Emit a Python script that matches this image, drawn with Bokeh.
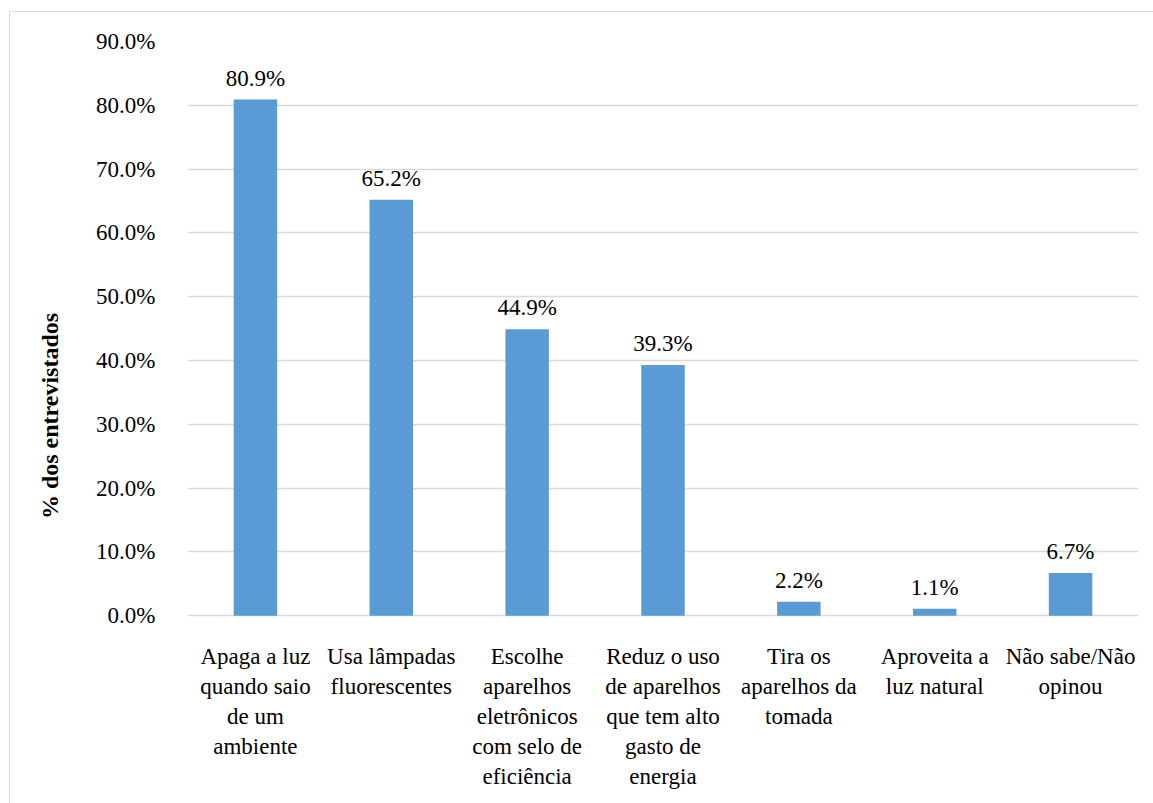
from bokeh.plotting import figure
from bokeh.layouts import column
from bokeh.models import FactorRange, Range1d, FixedTicker, ColumnDataSource
from bokeh.core.properties import value
from bokeh.embed import file_html
from bokeh.resources import INLINE

categories = [
    "Apaga a luz\nquando saio\nde um\nambiente",
    "Usa lâmpadas\nfluorescentes",
    "Escolhe\naparelhos\neletrônicos\ncom selo de\neficiência",
    "Reduz o uso\nde aparelhos\nque tem alto\ngasto de\nenergia",
    "Tira os\naparelhos da\ntomada",
    "Aproveita a\nluz natural",
    "Não sabe/Não\nopinou",
]
values = [80.9, 65.2, 44.9, 39.3, 2.2, 1.1, 6.7]
value_labels = [f"{v:.1f}%" for v in values]
y_ticks = [0, 10, 20, 30, 40, 50, 60, 70, 80, 90]
y_tick_labels = {t: f"{t:.1f}%" for t in y_ticks}

FONT = "Liberation Serif"
src = ColumnDataSource(dict(cat=categories, val=values, lab=value_labels,
                            zero=[0] * len(values)))

p = figure(
    x_range=FactorRange(*categories, range_padding=0),
    y_range=Range1d(-27.4, 90),
    width=1150, height=800,
    output_backend="svg", toolbar_location=None,
    min_border_left=177, min_border_right=22, min_border_top=29, min_border_bottom=22,
)
p.outline_line_color = None
p.background_fill_color = "white"

p.vbar(x="cat", top="val", bottom=0, width=0.32, source=src,
       fill_color="#5B9BD5", line_color=None)

p.text(x="cat", y="val", text="lab", source=src, text_align="center",
       text_baseline="bottom", y_offset=-9, text_font=value(FONT),
       text_font_size="23px", text_color="#000000")

p.text(x="cat", y="zero", text="cat", source=src, text_align="center",
       text_baseline="top", y_offset=28, text_font=value(FONT),
       text_font_size="23px", text_color="#000000", text_line_height=1.2)

p.xaxis.visible = False
p.xgrid.grid_line_color = None
p.ygrid.ticker = FixedTicker(ticks=y_ticks)
p.ygrid.grid_line_color = "#d9d9d9"
p.ygrid.grid_line_width = 1.5

ya = p.yaxis[0]
ya.ticker = FixedTicker(ticks=y_ticks)
ya.major_label_overrides = y_tick_labels
ya.axis_line_color = None
ya.major_tick_line_color = None
ya.minor_tick_line_color = None
ya.major_label_standoff = 26
ya.major_label_text_font = FONT
ya.major_label_text_font_size = "23px"
ya.major_label_text_color = "#000000"
ya.axis_label = "% dos entrevistados"
ya.axis_label_text_font = FONT
ya.axis_label_text_font_style = "bold"
ya.axis_label_text_font_size = "24px"
ya.axis_label_text_color = "#000000"
ya.axis_label_standoff = 30

layout = column(p, styles={"margin-left": "9px", "margin-top": "11px",
                           "border": "1px solid #d9d9d9"})

open("out.html", "w", encoding="utf-8").write(file_html(layout, INLINE))
